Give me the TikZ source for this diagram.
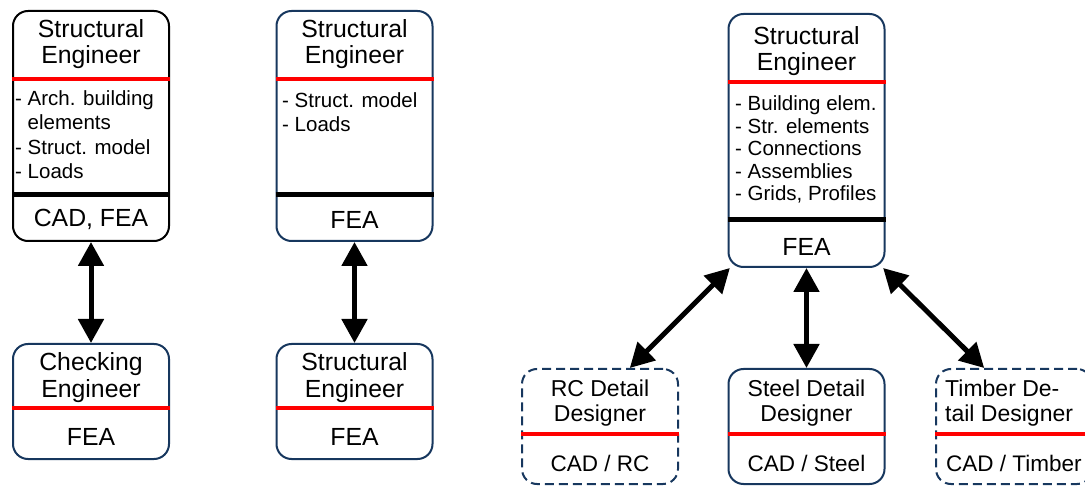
\documentclass[tikz,border=0pt]{standalone}
\usepackage{fontspec}
\setmainfont{Liberation Sans}
\usetikzlibrary{arrows.meta}
\definecolor{navy}{RGB}{23,55,94}
\definecolor{sepred}{RGB}{255,0,0}
\begin{document}
\begin{tikzpicture}[x=1pt,y=-1pt,
  box/.style={draw=navy, line width=2pt, rounded corners=15pt, minimum width=156pt, inner sep=0pt},
  dbox/.style={box, dash pattern=on 9pt off 5pt},
  redsep/.style={draw=sepred, line width=4pt},
  blksep/.style={draw=black, line width=5pt},
  conn/.style={line width=5pt, {Triangle[length=24pt,width=25pt]}-{Triangle[length=24pt,width=25pt]}},
  title/.style={inner sep=0pt, align=center, font=\fontsize{24.8}{26.8}\selectfont},
  btitle/.style={inner sep=0pt, align=center, font=\fontsize{23}{25}\selectfont},
  listtxt/.style={inner sep=0pt, align=left, anchor=north west, font=\fontsize{20.5}{24.3}\selectfont},
  tool/.style={inner sep=0pt, font=\fontsize{24.8}{26}\selectfont},
  btool/.style={inner sep=0pt, font=\fontsize{22.5}{25}\selectfont},
]
\clip (0,0) rectangle (1085,486);

% boxes
\node[box, draw=black, minimum height=230pt] (b1) at (91,126) {};
\node[box, minimum height=230pt] (b2) at (354.5,126) {};
\node[box, minimum height=253pt] (b3) at (806.5,140.5) {};
\node[box, minimum height=115pt] (b4) at (91,401.5) {};
\node[box, minimum height=115pt] (b5) at (354.5,401.5) {};
\node[dbox, minimum height=115pt] (rc) at (600,426.5) {};
\node[box, minimum height=115pt] (st) at (806.5,426.5) {};
\node[dbox, minimum height=115pt] (tim) at (1014,426.5) {};

% separators
\draw[redsep] (b1.west |- 0,79) -- (b1.east |- 0,79);
\draw[blksep] (b1.west |- 0,195) -- (b1.east |- 0,195);
\draw[redsep] (b2.west |- 0,79) -- (b2.east |- 0,79);
\draw[blksep] (b2.west |- 0,195) -- (b2.east |- 0,195);
\draw[redsep] (b3.west |- 0,82) -- (b3.east |- 0,82);
\draw[blksep] (b3.west |- 0,220) -- (b3.east |- 0,220);
\draw[redsep] (b4.west |- 0,408) -- (b4.east |- 0,408);
\draw[redsep] (b5.west |- 0,408) -- (b5.east |- 0,408);
\draw[redsep] (rc.west |- 0,434) -- (rc.east |- 0,434);
\draw[redsep] (st.west |- 0,434) -- (st.east |- 0,434);
\draw[redsep] (tim.west |- 0,434) -- (tim.east |- 0,434);

% texts
\node[title] (t1) at (91,44) {Structural\\Engineer};
\node[listtxt] (l1) at (15,90.5) {- Arch. building\\\hphantom{- }elements\\- Struct. model\\- Loads};
\node[tool] (f1) at (91,219) {CAD, FEA};

\node[title] (t2) at (354.5,44) {Structural\\Engineer};
\node[listtxt] (l2) at (282,92.5) {- Struct. model\\- Loads};
\node[tool] (f2) at (354.5,220) {FEA};

\node[title] (t3) at (806.5,51) {Structural\\Engineer};
\node[listtxt, font=\fontsize{20.5}{22.5}\selectfont] (l3) at (735,95.5) {- Building elem.\\- Str. elements\\- Connections\\- Assemblies\\- Grids, Profiles};
\node[tool] (f3) at (806.5,247) {FEA};

\node[title] (t4) at (91,377.5) {Checking\\Engineer};
\node[tool] (f4) at (91,437) {FEA};
\node[title] (t5) at (354.5,377.5) {Structural\\Engineer};
\node[tool] (f5) at (354.5,437) {FEA};

\node[btitle] (t6) at (600,403.5) {RC Detail\\Designer};
\node[btool] (f6) at (600,463) {CAD / RC};
\node[btitle] (t7) at (806.5,403.5) {Steel Detail\\Designer};
\node[btool] (f7) at (806.5,463) {CAD / Steel};
\node[btitle, align=left, anchor=west] (t8) at (945,403.5) {Timber De-\\tail Designer};
\node[btool, anchor=west] (f8) at (946,463) {CAD / Timber};

% connectors
\draw[conn] (b1.south) -- (b4.north);
\draw[conn] (b2.south) -- (b5.north);
\draw[conn] (b3.239) -- (rc.63);
\draw[conn] (b3.south) -- (st.north);
\draw[conn] (b3.-59) -- (tim.117);
\end{tikzpicture}
\end{document}
